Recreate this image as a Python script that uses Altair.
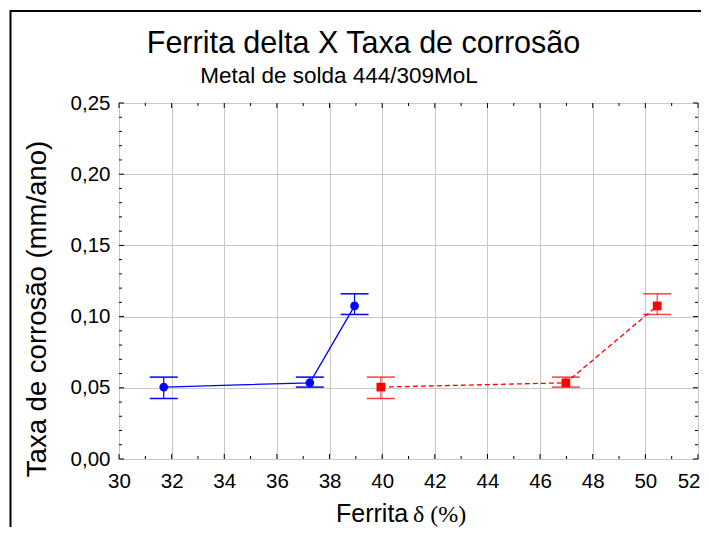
import altair as alt
import pandas as pd

# ---- text ----
TITLE = "Ferrita delta X Taxa de corrosão"
SUBTITLE = "Metal de solda 444/309MoL"
Y_TITLE = "Taxa de corrosão (mm/ano)"
X_TITLE_A = "Ferrita"
X_TITLE_B = "δ (%)"

# ---- data ----
blue_x = [31.7, 37.25, 38.95]
blue_y = [0.0505, 0.0535, 0.1075]
blue_lo = [0.0425, 0.0505, 0.1015]
blue_hi = [0.0575, 0.0575, 0.1160]

red_x = [39.95, 46.98, 50.45]
red_y = [0.0505, 0.0535, 0.1075]
red_lo = [0.0425, 0.0505, 0.1015]
red_hi = [0.0575, 0.0575, 0.1160]

X_LABELS = [30, 32, 34, 36, 38, 40, 42, 44, 46, 48, 50, 52]
X_MINOR = [31, 33, 35, 37, 39, 41, 43, 45, 47, 49, 51]
Y_LABELS = [0.0, 0.05, 0.10, 0.15, 0.20, 0.25]
Y_MINOR = [0.01, 0.02, 0.03, 0.04, 0.06, 0.07, 0.08, 0.09, 0.11, 0.12, 0.13, 0.14,
           0.16, 0.17, 0.18, 0.19, 0.21, 0.22, 0.23, 0.24]

W, H = 579, 356
FONT = "Liberation Sans"
BLUE = "#0000ff"
RED = "#ff0000"

xscale = alt.Scale(domain=[30, 52], nice=False, zero=False)
yscale = alt.Scale(domain=[0, 0.25], nice=False, zero=False)

LAST = "datum.value == 52"
xaxis = alt.Axis(values=X_LABELS, title=None, grid=True, ticks=False, domain=False,
                 labelPadding=12, labelFontSize=20.5, labelFont=FONT, labelColor="black",
                 gridColor="#c8c8c8", gridWidth=1, labelFlush=False, labelOverlap=False,
                 labelAlign={"condition": {"test": LAST, "value": "right"}, "value": "center"},
                 labelOffset={"condition": {"test": LAST, "value": 2}, "value": 0})
yaxis = alt.Axis(values=Y_LABELS, title=None, grid=True, ticks=False, domain=False,
                 labelPadding=9, labelFontSize=20.5, labelFont=FONT, labelColor="black",
                 gridColor="#c8c8c8", gridWidth=1, labelFlush=False, labelOverlap=False,
                 labelExpr="replace(format(datum.value, '.2f'), '.', ',')")


def X(f):
    return alt.X(f"{f}:Q", scale=xscale, axis=xaxis)


def Y(f):
    return alt.Y(f"{f}:Q", scale=yscale, axis=yaxis)


blue = pd.DataFrame({"x": blue_x, "y": blue_y, "lo": blue_lo, "hi": blue_hi})
red = pd.DataFrame({"x": red_x, "y": red_y, "lo": red_lo, "hi": red_hi})
one = pd.DataFrame({"k": [0]})


def series_layers(df, color, shape, dash, err_opacity):
    base = alt.Chart(df)
    bars = base.mark_rule(color=color, strokeWidth=1.2, opacity=err_opacity).encode(
        x=X("x"), y=Y("lo"), y2="hi")
    cap_lo = base.mark_tick(color=color, size=28, thickness=1.5, orient="horizontal",
                            opacity=err_opacity).encode(x=X("x"), y=Y("lo"))
    cap_hi = base.mark_tick(color=color, size=28, thickness=1.5, orient="horizontal",
                            opacity=err_opacity).encode(x=X("x"), y=Y("hi"))
    line_kw = dict(color=color, strokeWidth=1.3)
    if dash:
        line_kw["strokeDash"] = dash
    line = base.mark_line(**line_kw).encode(x=X("x"), y=Y("y"), order="x:Q")
    pts = base.mark_point(shape=shape, filled=True, size=76, color=color, opacity=1).encode(
        x=X("x"), y=Y("y"))
    return [bars, cap_lo, cap_hi, line, pts]


# inward tick marks on all four sides
xmaj = pd.DataFrame({"v": X_LABELS})
xmin = pd.DataFrame({"v": X_MINOR})
ymaj = pd.DataFrame({"v": Y_LABELS})
ymin = pd.DataFrame({"v": Y_MINOR})
tick_layers = []
for dfx, ln in ((xmaj, 5), (xmin, 3)):
    tick_layers.append(alt.Chart(dfx).mark_rule(color="black", strokeWidth=1).encode(
        x=X("v"), y=alt.value(H), y2=alt.value(H - ln)))
    tick_layers.append(alt.Chart(dfx).mark_rule(color="black", strokeWidth=1).encode(
        x=X("v"), y=alt.value(0), y2=alt.value(ln)))
for dfy, ln in ((ymaj, 5), (ymin, 3)):
    tick_layers.append(alt.Chart(dfy).mark_rule(color="black", strokeWidth=1).encode(
        y=Y("v"), x=alt.value(0), x2=alt.value(ln)))
    tick_layers.append(alt.Chart(dfy).mark_rule(color="black", strokeWidth=1).encode(
        y=Y("v"), x=alt.value(W), x2=alt.value(W - ln)))

# outer frame lines (top and left)
frame_top = alt.Chart(one).mark_rule(color="black", strokeWidth=2).encode(
    x=alt.value(-109), x2=alt.value(W + 10), y=alt.value(-92))
frame_left = alt.Chart(one).mark_rule(color="black", strokeWidth=2).encode(
    x=alt.value(-108.5), y=alt.value(-93), y2=alt.value(H + 80))

# texts
t_title = alt.Chart(one).mark_text(font=FONT, fontSize=30.5, align="center",
                                   baseline="alphabetic", color="black").encode(
    x=alt.value(244.5), y=alt.value(-50), text=alt.value(TITLE))
t_sub = alt.Chart(one).mark_text(font=FONT, fontSize=22.5, align="center",
                                 baseline="alphabetic", color="black").encode(
    x=alt.value(220), y=alt.value(-20), text=alt.value(SUBTITLE))
t_y = alt.Chart(one).mark_text(font=FONT, fontSize=27.5, align="center", angle=270,
                               baseline="middle", color="black").encode(
    x=alt.value(-81), y=alt.value(206), text=alt.value(Y_TITLE))
t_xa = alt.Chart(one).mark_text(font=FONT, fontSize=25, align="left",
                                baseline="alphabetic", color="black").encode(
    x=alt.value(217), y=alt.value(419), text=alt.value(X_TITLE_A))
t_xb = alt.Chart(one).mark_text(font="Liberation Serif", fontSize=24, align="left",
                                baseline="alphabetic", color="black").encode(
    x=alt.value(294), y=alt.value(419), text=alt.value(X_TITLE_B))

layers = (
    [frame_top, frame_left]
    + series_layers(blue, BLUE, "circle", None, 1.0)
    + series_layers(red, RED, "square", [5, 3], 0.75)
    + tick_layers
    + [t_title, t_sub, t_y, t_xa, t_xb]
)

chart = alt.layer(*layers).properties(
    width=W, height=H,
    autosize=alt.AutoSizeParams(type="none"),
    padding={"left": 111, "top": 95, "right": 3, "bottom": 68},
).configure_view(stroke="black", strokeWidth=1.5).configure(background="white")

chart.save("out.html", embed_options={"renderer": "svg", "actions": False})
